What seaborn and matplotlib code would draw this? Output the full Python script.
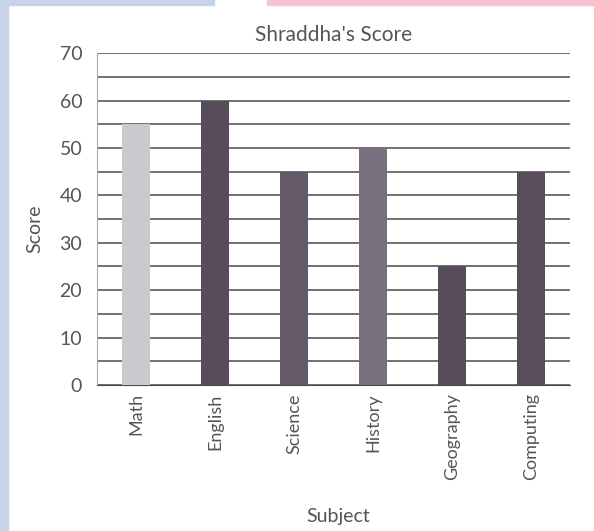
import pandas as pd
import seaborn as sns
import matplotlib.pyplot as plt
from matplotlib.patches import Rectangle

# data
subjects = ['Math', 'English', 'Science', 'History', 'Geography', 'Computing']
scores = [55, 60, 45, 50, 25, 45]
bar_colors = ['#cac8d0', '#574a5c', '#66586a', '#7a6e80', '#574a5c', '#5a4b5e']

df = pd.DataFrame({'Subject': subjects, 'Score': scores})

sns.set_style('white')
plt.rcParams['font.family'] = ['Lato', 'DejaVu Sans']
text_col = '#555555'

fig = plt.figure(figsize=(5.94, 5.31), dpi=100)
ax = fig.add_axes([0.163, 0.275, 0.797, 0.625])

sns.barplot(data=df, x='Subject', y='Score', hue='Subject', palette=bar_colors,
            width=0.35, legend=False, linewidth=0, ax=ax, zorder=3)

ax.set_ylim(0, 70)
ax.set_yticks(range(0, 71, 10))
ax.set_yticks(range(5, 70, 10), minor=True)
ax.grid(True, axis='y', which='both', color='#4a4a4a', linewidth=1.1, zorder=1)
ax.set_axisbelow(True)

ax.tick_params(axis='y', which='major', length=7, color='#999999', labelsize=14, labelcolor=text_col)
ax.tick_params(axis='y', which='minor', length=0)
ax.tick_params(axis='x', length=0, labelsize=13, labelcolor=text_col, rotation=90, pad=6)

for s in ['top', 'right']:
    ax.spines[s].set_visible(False)
ax.spines['left'].set_color('#aaaaaa')
ax.spines['left'].set_linewidth(0.8)
ax.spines['bottom'].set_color('#4a4a4a')

ax.set_title("Shraddha's Score", fontsize=15, color=text_col, pad=9)
ax.set_ylabel('Score', fontsize=14, color=text_col)
ax.yaxis.set_label_coords(-0.114, 0.47)
ax.set_xlabel('Subject', fontsize=14, color=text_col)
ax.xaxis.set_label_coords(0.51, -0.37)

# scan edges: blue strip on the left, coloured bands along the top
fig.patches.append(Rectangle((0, 0), 0.014, 1, transform=fig.transFigure, color='#c6d3ea', zorder=0))
fig.patches.append(Rectangle((0, 0.99), 0.36, 0.01, transform=fig.transFigure, color='#c6d3ea', zorder=0))
fig.patches.append(Rectangle((0.45, 0.99), 0.55, 0.01, transform=fig.transFigure, color='#f4c4cf', zorder=0))

fig.savefig('out.png', dpi=100)
plt.close()
